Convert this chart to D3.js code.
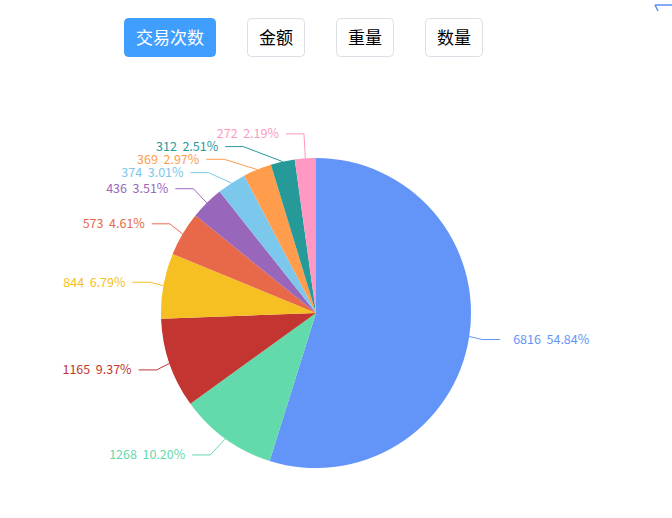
<!DOCTYPE html>
<html>
<head>
<meta charset="utf-8">
<script src="https://cdn.jsdelivr.net/npm/d3@7"></script>
<style>
  body { margin: 0; background: #fff; }
  svg { display: block; }
</style>
</head>
<body>
<svg id="chart" width="672" height="518"></svg>
<script>
var tabs = ['交易次数', '金额', '重量', '数量'];
var activeTab = 0;
var values = [6816, 1268, 1165, 844, 573, 436, 374, 369, 312, 272];
var colors = ['#6395F9', '#62DAAB', '#C23531', '#F6C022', '#E8684A', '#9867BC', '#7CC8EC', '#FF9D4D', '#269A99', '#FF99C3'];

var width = 672, height = 518;
var font = '"Microsoft YaHei", "Noto Sans CJK SC", sans-serif';
var svg = d3.select('#chart');

// tab buttons
var bx = 124;
var btn = svg.append('g').selectAll('g')
  .data(tabs)
  .enter()
  .append('g')
  .attr('transform', function(d) {
    var x = bx;
    bx += d.length * 17 + 24 + 31;
    return 'translate(' + x + ',18)';
  });
btn.append('rect')
  .attr('x', 0.5).attr('y', 0.5)
  .attr('width', function(d) { return d.length * 17 + 24 - 1; })
  .attr('height', 38)
  .attr('rx', 4)
  .attr('fill', function(d, i) { return i == activeTab ? '#409EFF' : '#fff'; })
  .attr('stroke', function(d, i) { return i == activeTab ? '#409EFF' : '#DCDFE6'; });
btn.append('text')
  .attr('x', function(d) { return (d.length * 17 + 24) / 2; })
  .attr('y', 20)
  .attr('dy', '0.35em')
  .attr('text-anchor', 'middle')
  .attr('font-family', font)
  .attr('font-size', '17px')
  .attr('fill', function(d, i) { return i == activeTab ? '#fff' : '#000'; })
  .text(function(d) { return d; });

// little icon cut off at the top right
svg.append('path')
  .attr('d', 'M655,5H672M655,5L658,11')
  .attr('fill', 'none')
  .attr('stroke', '#5B8FF9')
  .attr('stroke-width', 1.5);

// pie
var cx = 316, cy = 313, r = 155, len1 = 20, len2 = 18, labelH = 12.7;
var total = d3.sum(values);
var pie = d3.pie().sort(null).value(function(d) { return d; });
var arcs = pie(values);
var arc = d3.arc().innerRadius(0).outerRadius(r);

var g = svg.append('g').attr('transform', 'translate(' + cx + ',' + cy + ')');
g.selectAll('path.slice')
  .data(arcs)
  .enter()
  .append('path')
  .attr('class', 'slice')
  .attr('d', arc)
  .attr('fill', function(d, i) { return colors[i]; });

// label layout, shift on y to avoid overlap then put on a curve
var labels = arcs.map(function(d, i) {
  var a = (d.startAngle + d.endAngle) / 2;
  var sx = Math.sin(a), sy = -Math.cos(a);
  var dir = sx < 0 ? -1 : 1;
  return {
    i: i,
    dir: dir,
    text: d.data + '\u00a0\u00a0' + (d.data / total * 100).toFixed(2) + '%',
    ex: r * sx, ey: r * sy,
    x3: (r + len1) * sx + dir * len2,
    y: (r + len1) * sy
  };
});

function adjustSide(list) {
  list.sort(function(a, b) { return a.y - b.y; });
  var top = -cy, bottom = height - cy;
  function shiftDown(start, end, delta) {
    for (var j = start; j < end; j++) {
      if (list[j].y + delta > bottom) break;
      list[j].y += delta;
      if (j > start && j + 1 < end && list[j + 1].y > list[j].y + labelH) {
        shiftUp(j, delta / 2);
        return;
      }
    }
    shiftUp(end - 1, delta / 2);
  }
  function shiftUp(end, delta) {
    for (var j = end; j >= 0; j--) {
      if (list[j].y - delta < top) break;
      list[j].y -= delta;
      if (j > 0 && list[j].y > list[j - 1].y + labelH) break;
    }
  }
  var lastY = top;
  for (var i = 0; i < list.length; i++) {
    var delta = list[i].y - lastY;
    if (delta < 0) shiftDown(i, list.length, -delta);
    lastY = list[i].y + labelH;
  }
  changeX(list.filter(function(l) { return l.y < 0; }), false);
  changeX(list.filter(function(l) { return l.y >= 0; }), true);
}

function changeX(list, isDown) {
  var last = isDown ? Infinity : 0;
  var R = r + len1 + len2;
  list.forEach(function(l) {
    var dy = Math.abs(l.y);
    var lx = dy < r + len1 ? Math.sqrt(R * R - dy * dy) - 7 : Math.abs(l.x3);
    if (isDown && lx >= last) lx = last - 10;
    if (!isDown && lx <= last) lx = last + 10;
    l.lx = lx;
    last = lx;
  });
}

adjustSide(labels.filter(function(l) { return l.dir < 0; }));
adjustSide(labels.filter(function(l) { return l.dir > 0; }));

var line = d3.line();
g.selectAll('path.guide')
  .data(labels)
  .enter()
  .append('path')
  .attr('class', 'guide')
  .attr('d', function(l) {
    return line([[l.ex, l.ey], [l.dir * (l.lx - len2), l.y], [l.dir * l.lx, l.y]]);
  })
  .attr('fill', 'none')
  .attr('stroke', function(l) { return colors[l.i]; })
  .attr('stroke-width', 1);

g.selectAll('text.lbl')
  .data(labels)
  .enter()
  .append('text')
  .attr('class', 'lbl')
  .attr('x', function(l) { return l.dir < 0 ? -l.lx - 7 : l.lx + 13; })
  .attr('y', function(l) { return l.y; })
  .attr('dy', '0.35em')
  .attr('text-anchor', function(l) { return l.dir < 0 ? 'end' : 'start'; })
  .attr('font-family', font)
  .attr('font-size', '12.5px')
  .attr('fill', function(l) { return colors[l.i]; })
  .text(function(l) { return l.text; });
</script>
</body>
</html>
